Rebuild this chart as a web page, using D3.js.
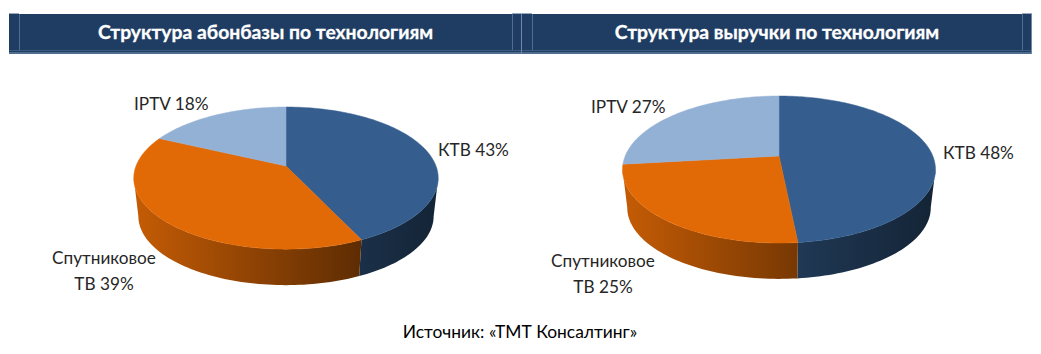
<!DOCTYPE html>
<html>
<head>
<meta charset="utf-8">
<script src="https://cdn.jsdelivr.net/npm/d3@7"></script>
<style>
  html, body { margin: 0; padding: 0; background: #fff; }
  text { font-family: Lato, "Open Sans", sans-serif; }
</style>
</head>
<body>
<div id="chart"></div>
<script>
const categories = ['КТВ', 'Спутниковое ТВ', 'IPTV']
const colors = ['#355e8f', '#e26a06', '#93b0d5']
const wallDark = [0.38, 0.26, 0.36]
const subscriberShares = [43, 39, 18]
const revenueShares = [48.4, 24.8, 26.8]
const titles = ['Структура абонбазы по технологиям', 'Структура выручки по технологиям']
const source = 'Источник: «ТМТ Консалтинг»'

const svg = d3.select('#chart').append('svg')
  .attr('width', 1041)
  .attr('height', 354)
const defs = svg.append('defs')
const format = d3.format('.0f')
const tau = Math.PI * 2

// apex, half axes, perspective and wall depth per pie
const pies = [
  { values: subscriberShares, x0: 286, y0: 166, w: 150, h: 69, p: 0.17, depth: 38.5, left: 134, right: 438,
    title: titles[0], bar: [9, 522],
    labels: [[438, 156], [104, 264], [134, 110]] },
  { values: revenueShares, x0: 779, y0: 156, w: 153.8, h: 71, p: 0.184, depth: 38.5, left: 622, right: 935,
    title: titles[1], bar: [522, 1032],
    labels: [[943, 159], [603, 267], [591, 113]] }
]

const line = d3.line()
const pie = d3.pie().sort(null)

function project (c, a, scale, dy) {
  const X = Math.sin(a)
  const Y = Math.cos(a)
  const s = scale / (1 + c.p * Y)
  return [c.x0 + c.w * X * s, c.y0 + dy - c.h * Y * s]
}

function arcPoints (c, start, end, scale, dy) {
  const n = Math.ceil((end - start) / tau * 240)
  return d3.range(n + 1).map(i => project(c, start + (end - start) * i / n, scale, dy))
}

function shade (color, k) {
  const c = d3.rgb(color)
  return d3.rgb(c.r * k, c.g * k, c.b * k).formatHex()
}

function drawBar (c) {
  const g = svg.append('g')
  const x0 = c.bar[0]
  const x1 = c.bar[1]
  g.append('rect').attr('x', x0).attr('y', 14).attr('width', x1 - x0).attr('height', 40).attr('fill', '#1f3d63')
  g.append('rect').attr('x', x0).attr('y', 50).attr('width', x1 - x0).attr('height', 1).attr('fill', '#3d5b80')
  g.append('rect').attr('x', x0).attr('y', 52).attr('width', x1 - x0).attr('height', 2).attr('fill', '#4f6d90')
  // the pale corner cells of the header
  ;[[x0, x0 + 10], [x1 - 10, x1]].forEach(cell => {
    g.append('rect').attr('x', cell[0]).attr('y', 13).attr('width', cell[1] - cell[0]).attr('height', 1)
      .attr('fill', '#9aaabd')
  })
  ;[x0 + 10, x1 - 10].forEach(x => {
    g.append('rect').attr('x', x).attr('y', 14).attr('width', 1).attr('height', 36).attr('fill', '#4f6d90')
  })
  g.append('rect').attr('x', x1 - 1).attr('y', 14).attr('width', 1).attr('height', 40).attr('fill', '#7189a5')
  g.append('text')
    .attr('x', (x0 + x1) / 2)
    .attr('y', 38.5)
    .attr('text-anchor', 'middle')
    .attr('fill', '#fff')
    .attr('stroke', '#fff')
    .attr('stroke-width', 0.3)
    .attr('font-weight', 700)
    .attr('font-size', 19.3)
    .text(c.title)
}

pies.forEach((c, pi) => {
  drawBar(c)

  const slices = pie(c.values)
  // the wall is only seen between the two points where the outline turns back
  const wallStart = Math.acos(-c.p)
  const wallEnd = tau - wallStart

  slices.forEach((d, i) => {
    const start = Math.max(d.startAngle, wallStart)
    const end = Math.min(d.endAngle, wallEnd)
    if (end <= start) return
    const id = 'wall' + pi + i
    const grad = defs.append('linearGradient').attr('id', id)
      .attr('gradientUnits', 'userSpaceOnUse')
      .attr('x1', c.left).attr('x2', c.right).attr('y1', 0).attr('y2', 0)
    grad.append('stop').attr('offset', 0).attr('stop-color', shade(colors[i], 0.87))
    grad.append('stop').attr('offset', 1).attr('stop-color', shade(colors[i], wallDark[i]))
    const top = arcPoints(c, start, end, 1, 0)
    const bottom = arcPoints(c, start, end, 0.97, c.depth).reverse()
    svg.append('path')
      .attr('d', line(top.concat(bottom)) + 'Z')
      .attr('fill', 'url(#' + id + ')')
  })

  slices.forEach((d, i) => {
    const pts = [[c.x0, c.y0]].concat(arcPoints(c, d.startAngle, d.endAngle, 1, 0))
    svg.append('path')
      .attr('d', line(pts) + 'Z')
      .attr('fill', colors[i])
      .attr('stroke', colors[i])
      .attr('stroke-width', 0.5)
  })

  slices.forEach((d, i) => {
    const [lx, ly] = c.labels[i]
    const pct = format(c.values[i]) + '%'
    const text = svg.append('text')
      .attr('font-size', 17.2)
      .attr('fill', '#262626')
    if (i === 1) {
      const parts = categories[i].split(' ')
      text.attr('text-anchor', 'middle')
      text.append('tspan').attr('x', lx).attr('y', ly).text(parts[0])
      text.append('tspan').attr('x', lx).attr('y', ly + 26).text(parts[1] + ' ' + pct)
    } else {
      text.attr('x', lx).attr('y', ly).text(categories[i] + ' ' + pct)
    }
  })
})

svg.append('text')
  .attr('x', 520)
  .attr('y', 338)
  .attr('text-anchor', 'middle')
  .attr('font-size', 17.4)
  .attr('fill', '#000')
  .text(source)
</script>
</body>
</html>
